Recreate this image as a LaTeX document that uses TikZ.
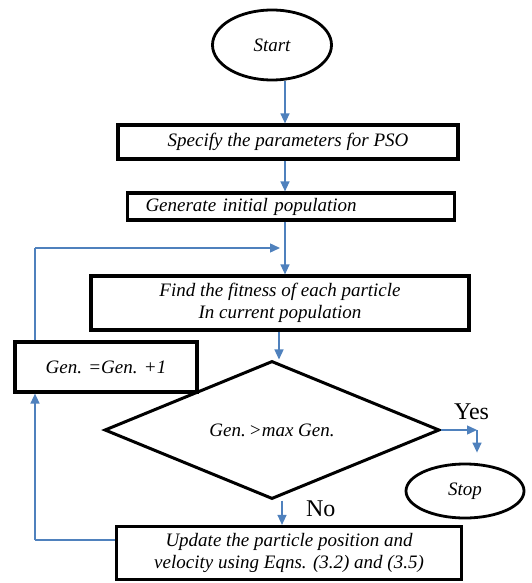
\documentclass[tikz,border=0pt]{standalone}
\usepackage{fontspec}
\setmainfont{Liberation Serif}
\usetikzlibrary{shapes.geometric,arrows.meta}
\definecolor{flowblue}{RGB}{79,129,189}
\begin{document}
\begin{tikzpicture}[x=1pt, y=-1pt,
    box/.style={draw, line width=3.2pt, inner sep=0pt, align=center,
                font=\fontsize{19}{21.5}\selectfont\itshape},
    term/.style={draw, ellipse, line width=2.8pt, inner sep=0pt,
                font=\fontsize{19}{21.5}\selectfont\itshape},
    flow/.style={flowblue, line width=1.4pt, -{Triangle[width=9pt,length=10pt]}},
    plain/.style={flowblue, line width=1.4pt}]
    \useasboundingbox (0,0) rectangle (532,583);

    % Terminals
    \node[term, minimum width=119pt, minimum height=70pt] (start) at (272,45) {Start};
    \node[term, minimum width=118pt, minimum height=54pt] (stop) at (465,491) {Stop};

    % Process boxes
    \node[box, minimum width=340pt, minimum height=34pt] (spec) at (288,142) {Specify the parameters for PSO};
    \node[box, minimum height=27pt, text width=291pt, align=left, inner xsep=18pt] (gen) at (291,206.5) {Generate initial population};
    \node[box, minimum width=378pt, minimum height=54pt] (fit) at (280,303) {Find the fitness of each particle\\In current population};
    \node[box, minimum width=182pt, minimum height=50pt] (inc) at (106,367) {Gen. =Gen. +1};
    \node[box, minimum width=345pt, minimum height=53pt] (upd) at (289,553) {Update the particle position and\\velocity using Eqns. (3.2) and (3.5)};

    % Decision
    \node[box, diamond, line width=3pt, minimum width=335pt, minimum height=96pt] (dec) at (272,430) {Gen.\,>max Gen.};

    % Helper points
    \coordinate (join) at (285,248);
    \coordinate (decin) at (279,0);
    \coordinate (decout) at (282,0);
    \coordinate (loopup) at (35,248);
    \coordinate (loopdown) at (35,540);
    \coordinate (yescorner) at (477,430);

    % Main flow
    \draw[flow] (start.south -| join) -- (spec.north -| join);
    \draw[flow] (spec.south -| join) -- (gen.north -| join);
    \draw[plain] (gen.south -| join) -- (join);
    \draw[flow] (join) -- (fit.north -| join);
    \draw[flow] (fit.south -| decin) -- (decin |- dec.north);
    \draw[flow] (decout |- dec.south) -- (upd.north -| decout) node[pos=0.35, right=20pt, black, font=\fontsize{24}{24}\selectfont] {No};

    % Yes branch
    \draw[flow] (dec.east) -- (yescorner) node[above=6pt, pos=0.85, black, font=\fontsize{24}{24}\selectfont] {Yes};
    \draw[flow, shorten >=10pt] (yescorner) -- (stop.north -| yescorner);

    % Loop back
    \draw[plain] (loopdown -| upd.west) -- (loopdown);
    \draw[flow] (loopdown) -- (inc.south -| loopdown);
    \draw[plain] (inc.north -| loopup) -- (loopup);
    \draw[flow, shorten >=5pt] (loopup) -- (join);
\end{tikzpicture}
\end{document}
